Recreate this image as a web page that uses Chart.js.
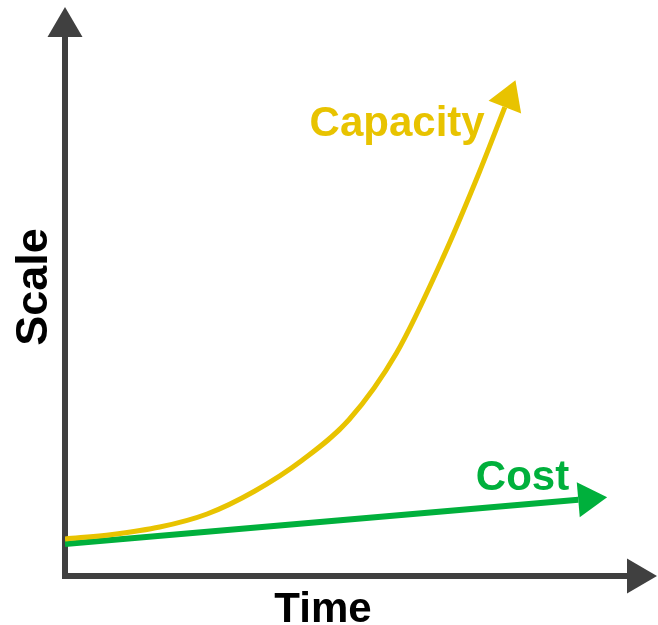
<!DOCTYPE html>
<html>
<head>
<meta charset="utf-8">
<title>Capacity vs Cost</title>
<script src="https://cdn.jsdelivr.net/npm/chart.js@4/dist/chart.umd.min.js"></script>
<style>
  html, body { margin: 0; padding: 0; background: #ffffff; }
  #wrap { width: 658px; height: 625px; }
</style>
</head>
<body>
<div id="wrap"><canvas id="chart" width="658" height="625"></canvas></div>
<script>
// Time points and scale values (arbitrary units, 0-100 on both axes)
const capacityTime = [0, 8, 16, 24, 32, 40, 48, 56, 64, 70, 74.3];
const capacityScale = [6.5, 7.3, 8.6, 10.9, 14.9, 20.3, 27.5, 39.2, 56.3, 71.0, 82.4];
const costTime = [0, 46.5, 86.7];
const costScale = [5.6, 9.8, 13.4];

const seriesNames = ['Capacity', 'Cost'];
const axisTitles = { x: 'Time', y: 'Scale' };

const YELLOW = '#E8C300';
const GREEN = '#00B03C';
const AXIS = '#404040';
const FONT = 'bold 42px "Liberation Sans", Arial, sans-serif';

const toPoints = (xs, ys) => xs.map((x, i) => ({ x: x, y: ys[i] }));

function arrowHead(ctx, bx, by, dx, dy, len, width, color) {
  const n = Math.hypot(dx, dy);
  const ux = dx / n, uy = dy / n;
  const px = -uy, py = ux;
  ctx.save();
  ctx.fillStyle = color;
  ctx.beginPath();
  ctx.moveTo(bx + ux * len, by + uy * len);
  ctx.lineTo(bx + px * width / 2, by + py * width / 2);
  ctx.lineTo(bx - px * width / 2, by - py * width / 2);
  ctx.closePath();
  ctx.fill();
  ctx.restore();
}

// Axes with arrowheads, drawn under the series
const arrowAxes = {
  id: 'arrowAxes',
  beforeDatasetsDraw(chart) {
    const { ctx, chartArea: a } = chart;
    const head = 30, w = 35;
    ctx.save();
    ctx.strokeStyle = AXIS;
    ctx.lineWidth = 6;
    ctx.lineCap = 'butt';
    ctx.beginPath();
    ctx.moveTo(a.left, a.bottom + 3);
    ctx.lineTo(a.left, a.top + head);
    ctx.moveTo(a.left - 3, a.bottom);
    ctx.lineTo(a.right - head, a.bottom);
    ctx.stroke();
    ctx.restore();
    arrowHead(ctx, a.left, a.top + head, 0, -1, head, w, AXIS);
    arrowHead(ctx, a.right - head, a.bottom, 1, 0, head, w, AXIS);

    ctx.save();
    ctx.fillStyle = '#000000';
    ctx.font = FONT;
    ctx.textAlign = 'center';
    ctx.textBaseline = 'alphabetic';
    ctx.fillText(axisTitles.x, a.left + 258, a.bottom + 46);
    ctx.translate(a.left - 18, a.top + 280);
    ctx.rotate(-Math.PI / 2);
    ctx.font = 'bold 45px "Liberation Sans", Arial, sans-serif';
    ctx.fillText(axisTitles.y, 0, 0);
    ctx.restore();
  }
};

// Arrowheads at the end of each series plus the series labels
const seriesArrows = {
  id: 'seriesArrows',
  afterDatasetsDraw(chart) {
    const { ctx } = chart;
    chart.data.datasets.forEach((ds, i) => {
      const pts = chart.getDatasetMeta(i).data;
      const p1 = pts[pts.length - 2], p2 = pts[pts.length - 1];
      arrowHead(ctx, p2.x, p2.y, p2.x - p1.x, p2.y - p1.y, 29, 35, ds.borderColor);
    });
    const xs = chart.scales.x, ys = chart.scales.y;
    ctx.save();
    ctx.font = FONT;
    ctx.textBaseline = 'alphabetic';
    ctx.fillStyle = YELLOW;
    ctx.textAlign = 'center';
    ctx.fillText(seriesNames[0], xs.getPixelForValue(56.1), ys.getPixelForValue(77.3));
    ctx.fillStyle = GREEN;
    ctx.textAlign = 'left';
    ctx.fillText(seriesNames[1], xs.getPixelForValue(69.4), ys.getPixelForValue(15.1));
    ctx.restore();
  }
};

new Chart(document.getElementById('chart'), {
  type: 'line',
  data: {
    datasets: [
      {
        label: seriesNames[0],
        data: toPoints(capacityTime, capacityScale),
        borderColor: YELLOW,
        borderWidth: 5,
        pointRadius: 0,
        cubicInterpolationMode: 'monotone',
        fill: false
      },
      {
        label: seriesNames[1],
        data: toPoints(costTime, costScale),
        borderColor: GREEN,
        borderWidth: 6,
        pointRadius: 0,
        tension: 0,
        fill: false
      }
    ]
  },
  options: {
    responsive: false,
    animation: false,
    events: [],
    layout: { padding: { left: 65, right: 1, top: 7, bottom: 49 } },
    plugins: { legend: { display: false }, tooltip: { enabled: false } },
    scales: {
      x: { type: 'linear', min: 0, max: 100, display: false },
      y: { type: 'linear', min: 0, max: 100, display: false }
    }
  },
  plugins: [arrowAxes, seriesArrows]
});
</script>
</body>
</html>
